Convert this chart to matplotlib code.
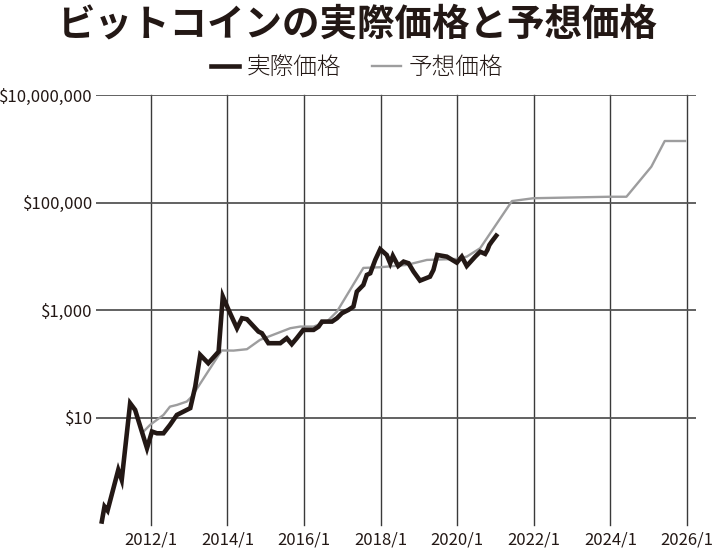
import matplotlib
matplotlib.use('Agg')
import matplotlib.pyplot as plt
from matplotlib.ticker import FixedLocator, FuncFormatter

plt.rcParams['font.family'] = ['Noto Sans CJK JP', 'DejaVu Sans']

# actual price (decimal year, USD)
actual_year = [2010.72, 2010.79, 2010.87, 2011.15, 2011.24, 2011.46, 2011.59, 2011.90,
               2012.03, 2012.16, 2012.33, 2012.50, 2012.68, 2013.03, 2013.16, 2013.29,
               2013.50, 2013.77, 2013.88, 2014.03, 2014.25, 2014.38, 2014.51, 2014.81,
               2014.90, 2015.07, 2015.38, 2015.55, 2015.68, 2015.81, 2015.98, 2016.25,
               2016.38, 2016.47, 2016.73, 2016.86, 2016.99, 2017.16, 2017.29, 2017.38,
               2017.55, 2017.64, 2017.73, 2017.86, 2017.99, 2018.16, 2018.25, 2018.32,
               2018.46, 2018.60, 2018.73, 2018.86, 2019.03, 2019.29, 2019.38, 2019.48,
               2019.73, 2019.99, 2020.12, 2020.25, 2020.47, 2020.60, 2020.73, 2020.79,
               2020.84, 2020.90, 2021.02]
actual_price = [0.116, 0.22, 0.185, 1.06, 0.69, 18.5, 13.9, 2.69,
                5.5, 5.1, 5.1, 7.3, 11.2, 15, 37.8, 147,
                103, 169, 1800, 1015, 462, 710, 680, 400,
                373, 243, 243, 301, 233, 301, 430, 430,
                495, 614, 614, 710, 880, 1013, 1168, 2220,
                2956, 4540, 4880, 8650, 13700, 10700, 7500, 10300,
                6680, 8040, 7500, 5240, 3560, 4220, 5630, 10700,
                9960, 7690, 9960, 6680, 9960, 12300, 11200, 13300,
                16400, 18900, 24500]

# forecast price (decimal year, USD)
forecast_year = [2011.81, 2011.98, 2012.33, 2012.50, 2012.68, 2012.94, 2013.07, 2013.85,
                 2014.16, 2014.51, 2014.85, 2015.64, 2015.90, 2016.25, 2016.60, 2016.86,
                 2017.55, 2017.99, 2018.68, 2019.21, 2019.99, 2020.25, 2020.60, 2021.43,
                 2021.99, 2023.98, 2024.42, 2025.07, 2025.42, 2025.95]
forecast_price = [5.5, 7.3, 11.2, 16, 17.2, 19.9, 24.6, 178,
                  177, 188, 280, 462, 496, 496, 614, 942,
                  6140, 6320, 6980, 8650, 9020, 9960, 14300, 108000,
                  122000, 130000, 130000, 472000, 1420000, 1420000]

x_ticks = [2012, 2014, 2016, 2018, 2020, 2022, 2024, 2026]
y_ticks = [10, 1000, 100000, 10000000]

fig = plt.figure(figsize=(7.14, 5.52), dpi=100)
ax = fig.add_axes([0.134, 0.049, 0.841, 0.778])

ax.plot(forecast_year, forecast_price, color='#9d9d9e', lw=1.7, label='予想価格', zorder=3)
ax.plot(actual_year, actual_price, color='#231815', lw=3.3, label='実際価格',
        solid_joinstyle='miter', zorder=4)

ax.set_yscale('log')
ax.set_xlim(2010.56, 2026.24)
ax.set_ylim(0.1, 1e7)

ax.xaxis.set_major_locator(FixedLocator(x_ticks))
ax.xaxis.set_major_formatter(FuncFormatter(lambda v, p: f'{int(round(v))}/1'))
ax.yaxis.set_major_locator(FixedLocator(y_ticks))
ax.yaxis.set_minor_locator(FixedLocator([]))
ax.yaxis.set_major_formatter(FuncFormatter(lambda v, p: f'${int(v):,}'))

for t in x_ticks:
    ax.plot([t, t], [0.1, 1e7], color='#3a3a3a', lw=1.0, zorder=1, clip_on=False)
for v in y_ticks:
    ax.axhline(v, color='#555555', lw=1.3, zorder=1)

for s in ax.spines.values():
    s.set_visible(False)
ax.tick_params(axis='both', length=0, labelsize=12, colors='#231815')
ax.tick_params(axis='x', pad=5)
ax.tick_params(axis='y', pad=2)

fig.text(0.5, 0.957, 'ビットコインの実際価格と予想価格', ha='center', va='center',
         fontsize=27, fontweight='bold', color='#231815')

handles, labels = ax.get_legend_handles_labels()
fig.legend(handles[::-1], labels[::-1], loc='center', bbox_to_anchor=(0.5, 0.878),
           ncol=2, frameon=False, prop={'size': 17, 'weight': 'light'},
           handlelength=1.2, columnspacing=1.3, handletextpad=0.35,
           labelcolor='#231815')

plt.savefig('out.png', dpi=100)
